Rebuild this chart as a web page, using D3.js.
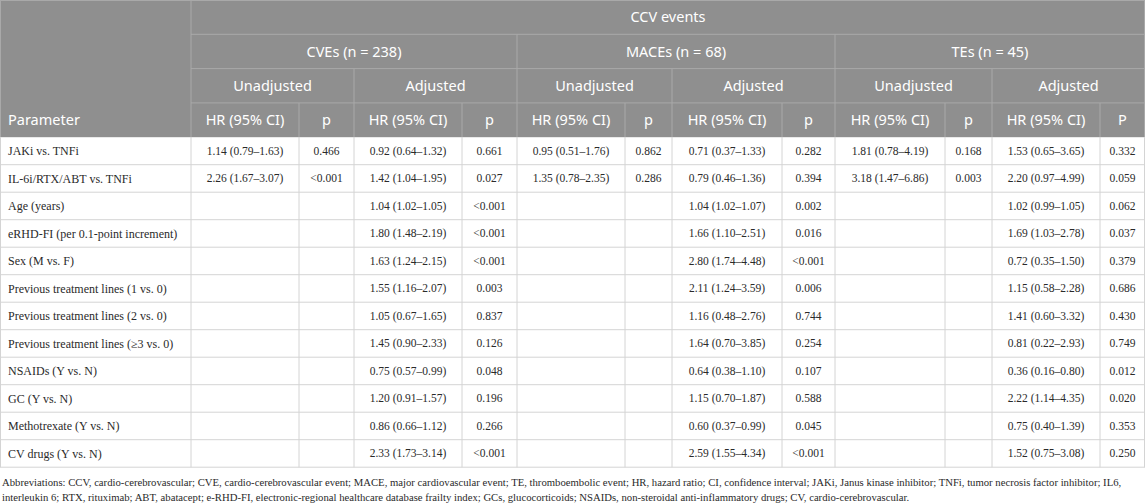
<!DOCTYPE html>
<html>
<head>
<meta charset="utf-8">
<script src="https://cdn.jsdelivr.net/npm/d3@7"></script>
<style>
  body { margin: 0; background: #fff; }
  svg { display: block; }
</style>
</head>
<body>
<svg></svg>
<script>
var width = 1145, height = 504;

// data

var parameters = [
  "JAKi vs. TNFi",
  "IL-6i/RTX/ABT vs. TNFi",
  "Age (years)",
  "eRHD-FI (per 0.1-point increment)",
  "Sex (M vs. F)",
  "Previous treatment lines (1 vs. 0)",
  "Previous treatment lines (2 vs. 0)",
  "Previous treatment lines (\u22653 vs. 0)",
  "NSAIDs (Y vs. N)",
  "GC (Y vs. N)",
  "Methotrexate (Y vs. N)",
  "CV drugs (Y vs. N)"
];

var cveUnadjHR = ["1.14 (0.79\u20131.63)", "2.26 (1.67\u20133.07)", "", "", "", "", "", "", "", "", "", ""];
var cveUnadjP = ["0.466", "<0.001", "", "", "", "", "", "", "", "", "", ""];
var cveAdjHR = ["0.92 (0.64\u20131.32)", "1.42 (1.04\u20131.95)", "1.04 (1.02\u20131.05)", "1.80 (1.48\u20132.19)",
  "1.63 (1.24\u20132.15)", "1.55 (1.16\u20132.07)", "1.05 (0.67\u20131.65)", "1.45 (0.90\u20132.33)",
  "0.75 (0.57\u20130.99)", "1.20 (0.91\u20131.57)", "0.86 (0.66\u20131.12)", "2.33 (1.73\u20133.14)"];
var cveAdjP = ["0.661", "0.027", "<0.001", "<0.001", "<0.001", "0.003", "0.837", "0.126", "0.048", "0.196", "0.266", "<0.001"];

var maceUnadjHR = ["0.95 (0.51\u20131.76)", "1.35 (0.78\u20132.35)", "", "", "", "", "", "", "", "", "", ""];
var maceUnadjP = ["0.862", "0.286", "", "", "", "", "", "", "", "", "", ""];
var maceAdjHR = ["0.71 (0.37\u20131.33)", "0.79 (0.46\u20131.36)", "1.04 (1.02\u20131.07)", "1.66 (1.10\u20132.51)",
  "2.80 (1.74\u20134.48)", "2.11 (1.24\u20133.59)", "1.16 (0.48\u20132.76)", "1.64 (0.70\u20133.85)",
  "0.64 (0.38\u20131.10)", "1.15 (0.70\u20131.87)", "0.60 (0.37\u20130.99)", "2.59 (1.55\u20134.34)"];
var maceAdjP = ["0.282", "0.394", "0.002", "0.016", "<0.001", "0.006", "0.744", "0.254", "0.107", "0.588", "0.045", "<0.001"];

var teUnadjHR = ["1.81 (0.78\u20134.19)", "3.18 (1.47\u20136.86)", "", "", "", "", "", "", "", "", "", ""];
var teUnadjP = ["0.168", "0.003", "", "", "", "", "", "", "", "", "", ""];
var teAdjHR = ["1.53 (0.65\u20133.65)", "2.20 (0.97\u20134.99)", "1.02 (0.99\u20131.05)", "1.69 (1.03\u20132.78)",
  "0.72 (0.35\u20131.50)", "1.15 (0.58\u20132.28)", "1.41 (0.60\u20133.32)", "0.81 (0.22\u20132.93)",
  "0.36 (0.16\u20130.80)", "2.22 (1.14\u20134.35)", "0.75 (0.40\u20131.39)", "1.52 (0.75\u20133.08)"];
var teAdjP = ["0.332", "0.059", "0.062", "0.037", "0.379", "0.686", "0.430", "0.749", "0.012", "0.020", "0.353", "0.250"];

var groupLabels = ["CVEs (n = 238)", "MACEs (n = 68)", "TEs (n = 45)"];
var modelLabels = ["Unadjusted", "Adjusted"];
var colLabels = ["HR (95% CI)", "p", "HR (95% CI)", "p", "HR (95% CI)", "p", "HR (95% CI)", "p",
  "HR (95% CI)", "p", "HR (95% CI)", "P"];

var footnote = [
  "Abbreviations: CCV, cardio-cerebrovascular; CVE, cardio-cerebrovascular event; MACE, major cardiovascular event; TE, thromboembolic event; HR, hazard ratio; CI, confidence interval; JAKi, Janus kinase inhibitor; TNFi, tumor necrosis factor inhibitor; IL6,",
  "interleukin 6; RTX, rituximab; ABT, abatacept; e-RHD-FI, electronic-regional healthcare database frailty index; GCs, glucocorticoids; NSAIDs, non-steroidal anti-inflammatory drugs; CV, cardio-cerebrovascular."
];

var columns = [cveUnadjHR, cveUnadjP, cveAdjHR, cveAdjP, maceUnadjHR, maceUnadjP,
  maceAdjHR, maceAdjP, teUnadjHR, teUnadjP, teAdjHR, teAdjP];

// layout

var edges = [0, 191, 299, 354, 462, 517, 625, 672, 782, 835, 945, 992, 1100, 1145];
var headH = 34.3, rowH = 27.5, top0 = headH * 4;
var headFill = "#8f8f8f", headLine = "#a9a9a9", gridLine = "#d4d4d4";
var sans = "'Noto Sans', 'Open Sans', sans-serif";
var serif = "'Liberation Serif', 'DejaVu Serif', serif";

var y = d3.scaleBand()
  .domain(parameters)
  .range([top0, top0 + rowH * parameters.length]);

var svg = d3.select("svg")
  .attr("width", width)
  .attr("height", height);

// header

svg.append("rect")
  .attr("x", 0).attr("y", 0)
  .attr("width", width).attr("height", top0)
  .attr("fill", headFill);

var head = svg.append("g");

function hline(g, x1, x2, yy, c) {
  g.append("line").attr("x1", x1).attr("x2", x2).attr("y1", yy).attr("y2", yy)
    .attr("stroke", c).attr("stroke-width", 1);
}
function vline(g, xx, y1, y2, c) {
  g.append("line").attr("x1", xx).attr("x2", xx).attr("y1", y1).attr("y2", y2)
    .attr("stroke", c).attr("stroke-width", 1);
}

hline(head, 0, width, 0.5, headLine);
hline(head, edges[1], width, headH, headLine);
hline(head, edges[1], width, headH * 2, headLine);
hline(head, edges[1], width, headH * 3, headLine);
vline(head, 0.5, 0, top0, headLine);
vline(head, width - 0.5, 0, top0, headLine);
vline(head, edges[1], 0, top0, headLine);
[5, 9].forEach(function (i) { vline(head, edges[i], headH, top0, headLine); });
[3, 7, 11].forEach(function (i) { vline(head, edges[i], headH * 2, top0, headLine); });
[2, 4, 6, 8, 10, 12].forEach(function (i) { vline(head, edges[i], headH * 3, top0, headLine); });

function headText(txt, x, row, anchor) {
  head.append("text")
    .attr("x", x)
    .attr("y", headH * row + headH / 2)
    .attr("dy", "0.35em")
    .attr("text-anchor", anchor || "middle")
    .attr("fill", "#fff")
    .attr("font-family", sans)
    .attr("font-size", 14.5)
    .text(txt);
}

headText("CCV events", (edges[1] + width) / 2, 0);
groupLabels.forEach(function (g, i) {
  headText(g, (edges[1 + i * 4] + edges[5 + i * 4]) / 2, 1);
});
d3.range(6).forEach(function (i) {
  headText(modelLabels[i % 2], (edges[1 + i * 2] + edges[3 + i * 2]) / 2, 2);
});
headText("Parameter", 8, 3, "start");
colLabels.forEach(function (c, i) {
  headText(c, (edges[1 + i] + edges[2 + i]) / 2, 3);
});

// body

var body = svg.append("g");

parameters.forEach(function (p) {
  hline(body, 0, width, y(p) + rowH, gridLine);
});
edges.forEach(function (e, i) {
  var xx = i === 0 ? 0.5 : (i === edges.length - 1 ? e - 0.5 : e);
  vline(body, xx, top0, top0 + rowH * parameters.length, gridLine);
});

body.selectAll("text.param")
  .data(parameters)
  .join("text")
  .attr("class", "param")
  .attr("x", 8)
  .attr("y", function (d) { return y(d) + rowH / 2; })
  .attr("dy", "0.35em")
  .attr("font-family", serif)
  .attr("font-size", 12)
  .attr("fill", "#2a2a2a")
  .text(function (d) { return d; });

columns.forEach(function (col, ci) {
  var cx = (edges[1 + ci] + edges[2 + ci]) / 2;
  body.selectAll("text.c" + ci)
    .data(col)
    .join("text")
    .attr("class", "c" + ci)
    .attr("x", cx)
    .attr("y", function (d, i) { return y(parameters[i]) + rowH / 2; })
    .attr("dy", "0.35em")
    .attr("text-anchor", "middle")
    .attr("font-family", serif)
    .attr("font-size", 11.5)
    .attr("fill", "#2a2a2a")
    .text(function (d) { return d; });
});

// footnote

svg.selectAll("text.foot")
  .data(footnote)
  .join("text")
  .attr("class", "foot")
  .attr("x", 2)
  .attr("y", function (d, i) { return 482 + i * 15.5; })
  .attr("dy", "0.35em")
  .attr("font-family", serif)
  .attr("font-size", 10.7)
  .attr("fill", "#2a2a2a")
  .text(function (d) { return d; });
</script>
</body>
</html>
